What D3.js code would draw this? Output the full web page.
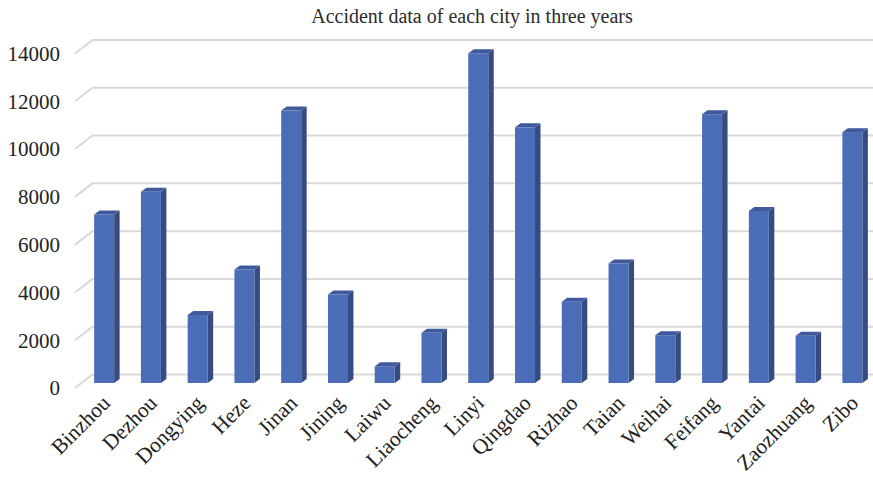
<!DOCTYPE html>
<html>
<head>
<meta charset="utf-8">
<script src="https://cdn.jsdelivr.net/npm/d3@7"></script>
<style>
  html, body { margin: 0; padding: 0; background: #ffffff; }
  svg { display: block; }
  text { font-family: "Liberation Serif", "DejaVu Serif", serif; fill: #222222; }
</style>
</head>
<body>
<script>
// Accident counts per city (three-year total)
const cities = ["Binzhou", "Dezhou", "Dongying", "Heze", "Jinan", "Jining", "Laiwu",
  "Liaocheng", "Linyi", "Qingdao", "Rizhao", "Taian", "Weihai", "Feifang",
  "Yantai", "Zaozhuang", "Zibo"];
const accidents = [7050, 8000, 2850, 4750, 11400, 3700, 700,
  2100, 13800, 10700, 3400, 5000, 2000, 11250,
  7200, 1980, 10500];
const yTicks = [0, 2000, 4000, 6000, 8000, 10000, 12000, 14000];
const chartTitle = "Accident data of each city in three years";

const W = 873, H = 479;
const svg = d3.select("body").append("svg").attr("width", W).attr("height", H);

// Back wall scale; the floor/side wall recede up and to the right
const y = d3.scaleLinear().domain([0, 14000]).range([374.5, 40]);
const x = d3.scaleBand().domain(cities).range([83.5, 878.5]).padding(0);

const wallDX = 17.5, wallDY = 13.5;   // depth of the side wall
const frontDY = 8.5;                  // bar front face sits below the back wall
const barW = 20, sideW = 5.5, sideH = 4;

svg.append("text")
  .attr("x", 472).attr("y", 23)
  .attr("text-anchor", "middle")
  .style("font-size", "20px")
  .style("fill", "#2b2b2b")
  .text(chartTitle);

// Gridlines: short diagonal along the side wall, then across the back wall
const grid = svg.append("g").attr("class", "grid");
grid.selectAll("path").data(yTicks).join("path")
  .attr("d", d => `M${92.5 - wallDX},${y(d) + wallDY} L92.5,${y(d)} L${W},${y(d)}`)
  .attr("fill", "none")
  .attr("stroke", "#d9d9d9")
  .attr("stroke-width", 2);

// Y axis labels at the front edge of the side wall
svg.append("g").selectAll("text").data(yTicks).join("text")
  .attr("x", 60).attr("y", d => y(d) + wallDY)
  .attr("dy", "0.35em")
  .attr("text-anchor", "end")
  .style("font-size", "21px")
  .text(d => d);

// 3D-style columns
const bars = svg.append("g").selectAll("g").data(cities).join("g");
const left = c => x(c) + (x.bandwidth() - barW - sideW) / 2;
const topY = (c, i) => y(accidents[i]) + frontDY;
const baseY = y(0) + frontDY;

bars.append("path") // right side face
  .attr("d", (c, i) => {
    const l = left(c) + barW, t = topY(c, i);
    return `M${l},${t} L${l + sideW},${t - sideH} L${l + sideW},${baseY - sideH} L${l},${baseY} Z`;
  })
  .attr("fill", "#364c80");

bars.append("rect") // front face
  .attr("x", c => left(c))
  .attr("y", (c, i) => topY(c, i))
  .attr("width", barW)
  .attr("height", (c, i) => baseY - topY(c, i))
  .attr("fill", "#4b6cb6");

bars.append("path") // top face
  .attr("d", (c, i) => {
    const l = left(c), t = topY(c, i);
    return `M${l},${t} L${l + barW},${t} L${l + barW + sideW},${t - sideH} L${l + sideW},${t - sideH} Z`;
  })
  .attr("fill", "#3e5a9c");

// Rotated category labels
svg.append("g").selectAll("text").data(cities).join("text")
  .attr("transform", c => {
    const cx = left(c) + barW / 2 + 2;
    return `translate(${cx},${399}) rotate(-45)`;
  })
  .attr("text-anchor", "end")
  .attr("dy", "0.35em")
  .style("font-size", "21.5px")
  .text(c => c);
</script>
</body>
</html>
